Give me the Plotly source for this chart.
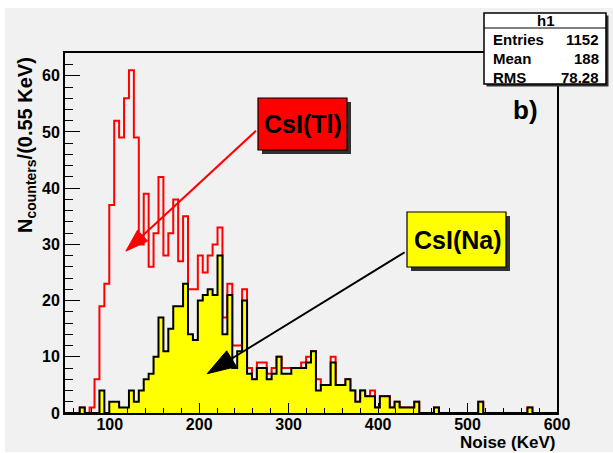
import numpy as np
import plotly.graph_objects as go

# ---------------------------------------------------------------------------
# Histogram binning: 100 bins of 5.5 KeV between 50 and 600 KeV
# ---------------------------------------------------------------------------
X_MIN, X_MAX, N_BINS = 50.0, 600.0, 100
Y_MAX = 64.05

# CsI(Tl) noise spectrum (h1), counts per bin
csi_tl_counts = [
    0, 0, 0, 1, 0, 1, 6, 19, 23, 37,
    52, 49, 56, 61, 49, 30, 39, 26, 32, 42,
    28, 32, 38, 27, 35, 22, 22, 28, 25, 28,
    30, 33, 17, 23, 12, 12, 22, 8, 6, 9,
    9, 7, 8, 10, 8, 8, 8, 8, 9, 10,
    11, 6, 5, 5, 10, 5, 5, 6, 4, 2,
    4, 3, 4, 1, 3, 3, 1, 2, 1, 1,
    1, 2, 0, 0, 0, 1, 0, 0, 0, 0,
    0, 0, 0, 0, 2, 0, 0, 0, 0, 0,
    0, 0, 0, 0, 1, 0, 0, 0, 0, 0,
]

# CsI(Na) noise spectrum, counts per bin
csi_na_counts = [
    0, 0, 0, 1, 0, 0, 0, 4, 0, 2,
    2, 1, 1, 4, 2, 4, 6, 7, 10, 17,
    11, 15, 19, 19, 23, 14, 13, 20, 21, 22,
    21, 28, 14, 21, 8, 11, 20, 7, 6, 8,
    8, 6, 7, 10, 7, 7, 8, 8, 8, 9,
    11, 4, 5, 5, 9, 5, 5, 6, 4, 2,
    4, 3, 3, 1, 3, 3, 1, 2, 1, 1,
    1, 2, 0, 0, 0, 1, 0, 0, 0, 0,
    0, 0, 0, 0, 2, 0, 0, 0, 0, 0,
    0, 0, 0, 0, 1, 0, 0, 0, 0, 0,
]

# statistics box of h1
stats_title = "h1"
stats_labels = ["Entries", "Mean", "RMS"]
stats_values = ["1152", "188", "78.28"]

# tick positions
x_tick_vals = [100, 200, 300, 400, 500, 600]
y_tick_vals = [0, 10, 20, 30, 40, 50, 60]

# arrows (tail -> head) in data units
tl_arrow_x = [263.5, 118.0]
tl_arrow_y = [50.2, 28.8]
na_arrow_x = [429.7, 209.0]
na_arrow_y = [28.6, 7.0]

# ---------------------------------------------------------------------------
# Page geometry (pixels) and helpers to convert to paper coordinates
# ---------------------------------------------------------------------------
W, H = 613, 453
L, R, T, B = 65, 557, 53, 413
FONT = "Liberation Sans"
BG = "#f1f1f1"


def px(xp):
    return (xp - L) / (R - L)


def py(yp):
    return (B - yp) / (B - T)


edges = np.linspace(X_MIN, X_MAX, N_BINS + 1)


def step_xy(counts):
    xs = list(edges)
    ys = list(counts) + [counts[-1]]
    return xs, ys


fig = go.Figure()

# CsI(Tl): red outline
tx, ty = step_xy(csi_tl_counts)
fig.add_trace(go.Scatter(
    x=tx, y=ty, mode="lines", line=dict(color="#ff0000", width=2, shape="hv"),
    hoverinfo="skip", showlegend=False))

# CsI(Na): yellow filled, black outline
nx, ny = step_xy(csi_na_counts)
fig.add_trace(go.Scatter(
    x=nx, y=ny, mode="lines", line=dict(color="#000000", width=2, shape="hv"),
    fill="tozeroy", fillcolor="#ffff00", hoverinfo="skip", showlegend=False))

# arrows pointing from the labels to the spectra
for ax_, ay_, col, head in [(tl_arrow_x, tl_arrow_y, "#ff0000", 24),
                            (na_arrow_x, na_arrow_y, "#000000", 30)]:
    fig.add_trace(go.Scatter(
        x=ax_, y=ay_, mode="lines+markers",
        line=dict(color=col, width=2),
        marker=dict(symbol="arrow", angleref="previous", size=[0, head],
                    color=col, opacity=1, line=dict(width=1, color=col)),
        hoverinfo="skip", showlegend=False, cliponaxis=False))

shapes = []
# canvas background
shapes.append(dict(type="rect", xref="paper", yref="paper", layer="below",
                   x0=px(5), x1=px(613), y0=py(452), y1=py(8),
                   fillcolor=BG, line=dict(width=0)))


def box(x0, y0, x1, y1, fill, shadow, border=1.2):
    out = []
    if shadow:
        out.append(dict(type="rect", xref="paper", yref="paper", layer="above",
                        x0=px(x0 + shadow), x1=px(x1 + shadow),
                        y0=py(y1 + shadow), y1=py(y0 + shadow),
                        fillcolor="#303030", line=dict(width=0)))
    out.append(dict(type="rect", xref="paper", yref="paper", layer="above",
                    x0=px(x0), x1=px(x1), y0=py(y1), y1=py(y0),
                    fillcolor=fill, line=dict(color="#000000", width=border)))
    return out


# statistics box
shapes += box(484, 13, 606, 84, "#ffffff", 2.5, 1.5)
shapes.append(dict(type="line", xref="paper", yref="paper", layer="above",
                   x0=px(484), x1=px(606), y0=py(28), y1=py(28),
                   line=dict(color="#000000", width=1.2)))
# label boxes
shapes += box(258, 98, 347, 150, "#ff0000", 4)
shapes += box(407, 212, 506, 267, "#ffff00", 4)

annotations = []


def text(s, x, y, size, xanchor="center", yanchor="middle", angle=0):
    annotations.append(dict(
        text=s, xref="paper", yref="paper", x=px(x), y=py(y),
        xanchor=xanchor, yanchor=yanchor, showarrow=False, textangle=angle,
        font=dict(family=FONT, size=size, color="#000000", weight="bold")))


text(stats_title, 545.5, 20.5, 15)
for i, (lab, val) in enumerate(zip(stats_labels, stats_values)):
    yy = 39.5 + 19.0 * i
    text(lab, 490.5, yy, 15, xanchor="left")
    text(val, 601.0, yy, 15, xanchor="right")

text("CsI(Tl)", 303.0, 124.5, 25)
text("CsI(Na)", 457.5, 240.5, 25)
text("b)", 525.0, 110.0, 26)

# axis titles
text("Noise (KeV)", 557, 442, 17, xanchor="right")
text("N<sub>counters</sub>/(0.55 KeV)", 26, 55, 20, yanchor="top", angle=-90)

axis_font = dict(family=FONT, size=16, color="#000000", weight="bold")

fig.update_layout(
    width=W, height=H,
    margin=dict(l=L, r=W - R, t=T, b=H - B, pad=0),
    paper_bgcolor="#ffffff", plot_bgcolor=BG,
    showlegend=False,
    shapes=shapes, annotations=annotations,
    xaxis=dict(range=[X_MIN, X_MAX], tickvals=x_tick_vals,
               ticks="inside", ticklen=10, tickwidth=1, tickcolor="#000000",
               ticklabelstandoff=-4,
               minor=dict(dtick=20, tick0=0, ticks="inside", ticklen=5,
                          tickwidth=1, tickcolor="#000000"),
               showline=True, linecolor="#000000", linewidth=2, mirror=True,
               showgrid=False, zeroline=False, tickfont=axis_font),
    yaxis=dict(range=[0, Y_MAX], tickvals=y_tick_vals,
               ticks="inside", ticklen=15, tickwidth=1, tickcolor="#000000",
               minor=dict(dtick=2, tick0=0, ticks="inside", ticklen=8,
                          tickwidth=1, tickcolor="#000000"),
               showline=True, linecolor="#000000", linewidth=2, mirror=True,
               showgrid=False, zeroline=False, tickfont=axis_font),
)

fig.write_html("out.html")
